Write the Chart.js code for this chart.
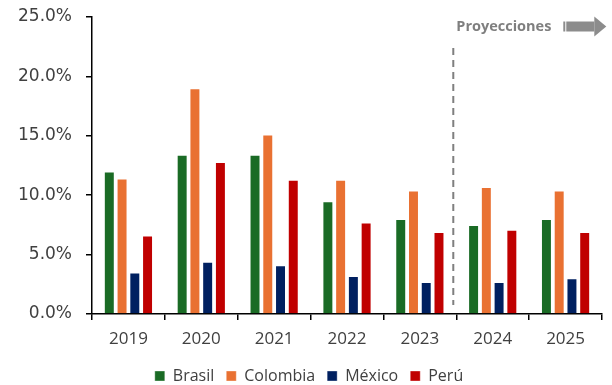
<!DOCTYPE html>
<html>
<head>
<meta charset="utf-8">
<script src="https://cdn.jsdelivr.net/npm/chart.js@4/dist/chart.umd.min.js"></script>
<style>
  html, body { margin: 0; padding: 0; background: #fff; }
  #wrap { width: 612px; height: 385px; }
</style>
</head>
<body>
<div id="wrap"><canvas id="c" width="612" height="385"></canvas></div>
<script>
// Categories and series (percent)
const years = ['2019', '2020', '2021', '2022', '2023', '2024', '2025'];
const brasil   = [12.0, 13.4, 13.4, 9.5, 8.0, 7.5, 8.0];
const colombia = [11.4, 19.0, 15.1, 11.3, 10.4, 10.7, 10.4];
const mexico   = [3.5, 4.4, 4.1, 3.2, 2.7, 2.7, 3.0];
const peru     = [6.6, 12.8, 11.3, 7.7, 6.9, 7.1, 6.9];
const yTicks   = [0, 5, 10, 15, 20, 25];
const projectionStart = '2024';
const projectionLabel = 'Proyecciones';

const FONT = '"Open Sans", "DejaVu Sans", sans-serif';
const YFONT = '"DejaVu Sans", sans-serif';

// Dashed divider before the projected years plus the "Proyecciones" tag and arrow
const projectionMarker = {
  id: 'projectionMarker',
  afterDatasetsDraw(chart) {
    const { ctx, scales: { x, y } } = chart;
    const idx = years.indexOf(projectionStart);
    const xPos = (x.getPixelForValue(idx - 1) + x.getPixelForValue(idx)) / 2 - 3;
    ctx.save();
    ctx.strokeStyle = '#7f7f7f';
    ctx.lineWidth = 2;
    ctx.setLineDash([7, 5]);
    ctx.beginPath();
    ctx.moveTo(xPos, y.getPixelForValue(22.4));
    ctx.lineTo(xPos, y.getPixelForValue(0.75));
    ctx.stroke();
    ctx.setLineDash([]);

    const ty = y.getPixelForValue(24.2);
    ctx.font = 'bold 14.5px ' + FONT;
    ctx.fillStyle = '#7f7f7f';
    ctx.textBaseline = 'middle';
    ctx.textAlign = 'left';
    ctx.fillText(projectionLabel, xPos + 3, ty);

    // arrow
    const ax = xPos + 110;
    ctx.fillStyle = '#8c8c8c';
    ctx.fillRect(ax, ty - 5, 2, 10);
    ctx.fillRect(ax + 3, ty - 5, 28, 10);
    ctx.beginPath();
    ctx.moveTo(ax + 31, ty - 10);
    ctx.lineTo(ax + 43, ty);
    ctx.lineTo(ax + 31, ty + 10);
    ctx.closePath();
    ctx.fill();
    ctx.restore();
  }
};

const mk = (label, data, color) => ({
  label, data,
  backgroundColor: color,
  borderColor: 'rgba(255,255,255,0.35)',
  borderWidth: 1,
  barPercentage: 0.86,
  categoryPercentage: 0.7
});

new Chart(document.getElementById('c'), {
  type: 'bar',
  data: {
    labels: years,
    datasets: [
      mk('Brasil', brasil, '#1a6b25'),
      mk('Colombia', colombia, '#e97132'),
      mk('México', mexico, '#002060'),
      mk('Perú', peru, '#c00000')
    ]
  },
  options: {
    responsive: false,
    animation: false,
    layout: { padding: { top: 17, right: 10, left: 16, bottom: -9 } },
    plugins: {
      legend: {
        position: 'bottom',
        labels: {
          boxWidth: 10, boxHeight: 10, padding: 12,
          color: '#404040',
          font: { family: FONT, size: 16 }
        }
      },
      tooltip: { enabled: false }
    },
    scales: {
      x: {
        offset: true,
        afterFit(axis) { axis.height -= 2.4; },
        grid: { display: true, offset: true, drawOnChartArea: false, drawTicks: true, tickLength: 6, color: '#000', lineWidth: 1.5 },
        border: { display: true, color: '#000', width: 1.5 },
        ticks: { color: '#404040', font: { family: FONT, size: 17 }, padding: 9 }
      },
      y: {
        min: 0, max: 25,
        afterBuildTicks(axis) { axis.ticks = yTicks.map(v => ({ value: v })); },
        afterFit(axis) { axis.paddingTop = 0; axis.width -= 12; },
        grid: { display: true, drawOnChartArea: false, drawTicks: true, tickLength: 6, color: '#000', lineWidth: 1.5 },
        border: { display: true, color: '#000', width: 1.5 },
        ticks: {
          color: '#404040',
          font: { family: YFONT, size: 17 },
          padding: 14,
          callback: v => Number(v).toFixed(1) + '%'
        }
      }
    }
  },
  plugins: [projectionMarker]
});
</script>
</body>
</html>
